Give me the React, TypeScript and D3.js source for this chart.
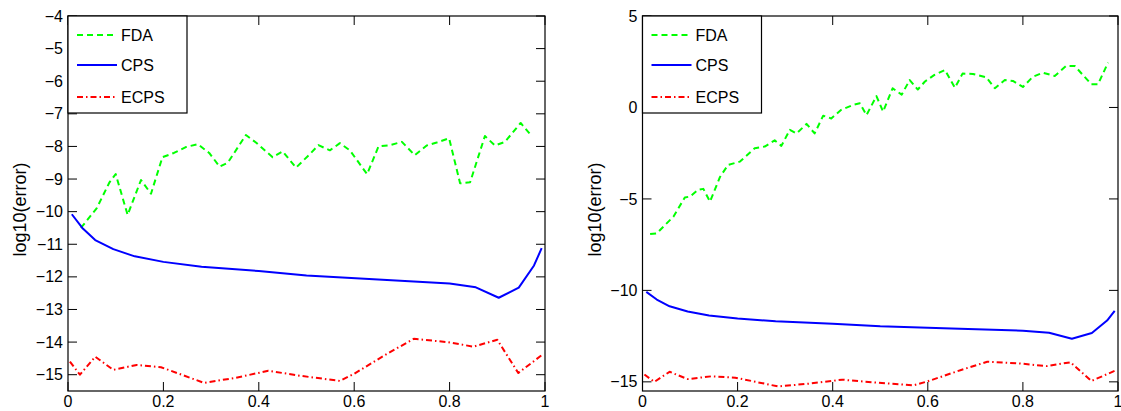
import React from "react";
import * as d3 from "d3";

// ---- Data ----
const seriesNames = ["FDA", "CPS", "ECPS"];
const xTicks = [0, 0.2, 0.4, 0.6, 0.8, 1];
const xTickLabels = ["0", "0.2", "0.4", "0.6", "0.8", "1"];
const leftYTicks = [-4, -5, -6, -7, -8, -9, -10, -11, -12, -13, -14, -15];
const rightYTicks = [5, 0, -5, -10, -15];

const fdaLeftX = [0.027, 0.06, 0.087, 0.1, 0.125, 0.153, 0.174, 0.198, 0.222, 0.247, 0.272, 0.296, 0.318, 0.335, 0.373, 0.394, 0.429, 0.45, 0.478, 0.506, 0.525, 0.549, 0.57, 0.591, 0.627, 0.651, 0.675, 0.7, 0.727, 0.752, 0.773, 0.799, 0.822, 0.843, 0.874, 0.895, 0.916, 0.949, 0.972];
const fdaLeftY = [-10.5, -9.9, -9.1, -8.85, -10.1, -9.03, -9.45, -8.33, -8.2, -8.02, -7.93, -8.2, -8.62, -8.5, -7.65, -7.88, -8.33, -8.15, -8.65, -8.25, -7.96, -8.12, -7.9, -8.12, -8.85, -8.0, -7.96, -7.86, -8.27, -7.97, -7.88, -7.75, -9.13, -9.1, -7.68, -7.97, -7.86, -7.28, -7.68];

const fdaRightX = [0.016, 0.03, 0.065, 0.089, 0.1, 0.117, 0.128, 0.142, 0.163, 0.18, 0.205, 0.236, 0.257, 0.278, 0.292, 0.31, 0.324, 0.345, 0.362, 0.38, 0.397, 0.418, 0.443, 0.457, 0.471, 0.492, 0.506, 0.526, 0.545, 0.562, 0.579, 0.594, 0.614, 0.636, 0.657, 0.673, 0.695, 0.723, 0.741, 0.762, 0.779, 0.8, 0.821, 0.842, 0.867, 0.891, 0.909, 0.926, 0.944, 0.958, 0.979];
const fdaRightY = [-6.92, -6.88, -5.97, -4.92, -4.87, -4.5, -4.45, -5.15, -3.8, -3.14, -2.96, -2.23, -2.14, -1.8, -2.1, -1.22, -1.42, -0.9, -1.42, -0.45, -0.6, -0.13, 0.14, 0.23, -0.42, 0.62, -0.23, 1.05, 0.7, 1.5, 0.98, 1.42, 1.78, 2.05, 1.08, 1.85, 1.83, 1.65, 1.05, 1.5, 1.45, 1.12, 1.68, 1.9, 1.72, 2.27, 2.27, 1.78, 1.27, 1.27, 2.45];

const cpsX = [0.008, 0.03, 0.057, 0.095, 0.14, 0.2, 0.28, 0.4, 0.5, 0.65, 0.8, 0.855, 0.903, 0.945, 0.977, 0.993];
const cpsY = [-10.08, -10.5, -10.87, -11.15, -11.37, -11.54, -11.69, -11.82, -11.96, -12.08, -12.2, -12.32, -12.64, -12.33, -11.65, -11.12];

const ecpsX = [0.004, 0.025, 0.057, 0.095, 0.144, 0.195, 0.285, 0.35, 0.42, 0.49, 0.57, 0.6, 0.67, 0.725, 0.795, 0.85, 0.9, 0.944, 0.993];
const ecpsY = [-14.6, -15.0, -14.45, -14.85, -14.7, -14.77, -15.25, -15.1, -14.88, -15.04, -15.19, -14.97, -14.35, -13.9, -14.0, -14.14, -13.93, -14.95, -14.4];

const FONT = "'Liberation Sans', Arial, Helvetica, sans-serif";
const styles = [
  { color: "#00ff00", dash: "6,4" },
  { color: "#0000ff", dash: "none" },
  { color: "#ff0000", dash: "6,3,1.5,3" },
];

function fmt(v: number) {
  return v < 0 ? "\u2212" + Math.abs(v) : String(v);
}

type PanelProps = {
  left: number;
  right: number;
  top: number;
  bottom: number;
  yDomain: [number, number];
  yTicks: number[];
  fdaX: number[];
  fdaY: number[];
  labelX: number;
};

function Panel(p: PanelProps) {
  const x = d3.scaleLinear().domain([0, 1]).range([p.left, p.right]);
  const y = d3.scaleLinear().domain(p.yDomain).range([p.bottom, p.top]);
  const line = d3
    .line<[number, number]>()
    .x((d) => x(d[0]))
    .y((d) => y(d[1]));
  const zip = (a: number[], b: number[]) => a.map((v, i) => [v, b[i]] as [number, number]);
  const series = [zip(p.fdaX, p.fdaY), zip(cpsX, cpsY), zip(ecpsX, ecpsY)];
  const tl = 9;
  const lgX = p.left;
  const lgY = p.top;
  const lgW = 119;
  const lgH = 97;
  const rowY = [35, 65, 97];
  return (
    <g>
      <defs>
        <clipPath id={`clip${Math.round(p.left)}`}>
          <rect x={p.left} y={p.top} width={p.right - p.left} height={p.bottom - p.top} />
        </clipPath>
      </defs>
      <g clipPath={`url(#clip${Math.round(p.left)})`}>
        {series.map((s, i) => (
          <path
            key={i}
            d={line(s) || ""}
            fill="none"
            stroke={styles[i].color}
            strokeWidth={2}
            strokeDasharray={styles[i].dash}
            strokeLinejoin="round"
          />
        ))}
      </g>
      {/* axes box */}
      <rect x={p.left} y={p.top} width={p.right - p.left} height={p.bottom - p.top} fill="none" stroke="#000" strokeWidth={1.2} />
      {/* x ticks */}
      {xTicks.map((t, i) => (
        <g key={"xt" + i}>
          <line x1={x(t)} x2={x(t)} y1={p.bottom} y2={p.bottom - tl} stroke="#000" strokeWidth={1} />
          <line x1={x(t)} x2={x(t)} y1={p.top} y2={p.top + tl} stroke="#000" strokeWidth={1} />
          <text x={x(t)} y={p.bottom + 16} textAnchor="middle" fontFamily={FONT} fontSize={16} fill="#000">
            {xTickLabels[i]}
          </text>
        </g>
      ))}
      {/* y ticks */}
      {p.yTicks.map((t, i) => (
        <g key={"yt" + i}>
          <line x1={p.left} x2={p.left + tl} y1={y(t)} y2={y(t)} stroke="#000" strokeWidth={1} />
          <line x1={p.right} x2={p.right - tl} y1={y(t)} y2={y(t)} stroke="#000" strokeWidth={1} />
          <text x={p.left - 5} y={y(t)} dy="0.35em" textAnchor="end" fontFamily={FONT} fontSize={16} fill="#000">
            {fmt(t)}
          </text>
        </g>
      ))}
      <text
        transform={`translate(${p.labelX},${(p.top + p.bottom) / 2 + 6}) rotate(-90)`}
        textAnchor="middle"
        dy="0.35em"
        fontFamily={FONT}
        fontSize={18}
        fill="#000"
      >
        log10(error)
      </text>
      {/* legend */}
      <rect x={lgX} y={lgY} width={lgW} height={lgH} fill="#fff" stroke="#000" strokeWidth={1.2} />
      {seriesNames.map((n, i) => (
        <g key={n}>
          <line
            x1={lgX + 9}
            x2={lgX + 49}
            y1={rowY[i]}
            y2={rowY[i]}
            stroke={styles[i].color}
            strokeWidth={2}
            strokeDasharray={styles[i].dash}
          />
          <text x={lgX + 53} y={rowY[i]} dy="0.35em" fontFamily={FONT} fontSize={16} fill="#000">
            {n}
          </text>
        </g>
      ))}
    </g>
  );
}

export default function App() {
  return (
    <svg
      width={1121}
      height={411}
      style={{ position: "absolute", left: 0, top: 0, background: "#fff" }}
    >
      <rect x={0} y={0} width={1121} height={411} fill="#fff" />
      <Panel
        left={68}
        right={545}
        top={16}
        bottom={391}
        yDomain={[-15.5, -4]}
        yTicks={leftYTicks}
        fdaX={fdaLeftX}
        fdaY={fdaLeftY}
        labelX={20}
      />
      <Panel
        left={642.5}
        right={1118}
        top={16}
        bottom={391}
        yDomain={[-15.5, 5]}
        yTicks={rightYTicks}
        fdaX={fdaRightX}
        fdaY={fdaRightY}
        labelX={595}
      />
    </svg>
  );
}
